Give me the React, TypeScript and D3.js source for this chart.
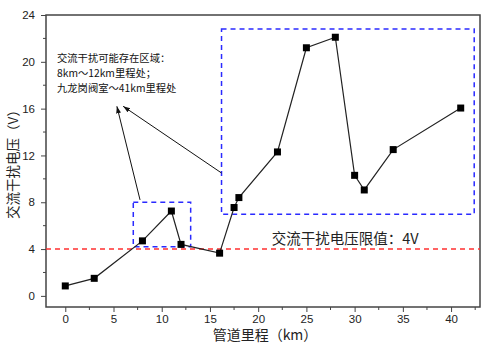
import React, { useEffect, useRef } from "react";
import * as d3 from "d3";

// mileage (km) and measured AC interference voltage (V)
const mileage = [0, 3, 8, 11, 12, 16, 17.5, 18, 22, 25, 28, 30, 31, 34, 41];
const voltage = [0.85, 1.5, 4.7, 7.25, 4.4, 3.65, 7.55, 8.4, 12.3, 21.2, 22.1, 10.3, 9.05, 12.5, 16.05];

const xTicks = [0, 5, 10, 15, 20, 25, 30, 35, 40];
const yTicks = [0, 4, 8, 12, 16, 20, 24];
const limitValue = 4;

// highlighted regions [x0, x1, y0, y1] in data units
const regions = [
  [7.05, 13.0, 4.2, 8.0],
  [16.2, 42.4, 6.97, 22.8],
];
// arrows [fromX, fromY, toX, toY] in data units
const arrows = [
  [16.2, 10.5, 6.0, 16.2],
  [7.75, 8.2, 5.35, 16.2],
];
const noteLines = ["交流干扰可能存在区域：", "8km～12km里程处；", "九龙岗阀室～41km里程处"];

const W = 500;
const H = 351;

function App() {
  const ref = useRef<SVGSVGElement>(null);

  useEffect(() => {
    const svg = d3.select(ref.current);
    svg.selectAll("*").remove();

    const margin = { top: 15, right: 20, bottom: 44, left: 46 };
    const x = d3.scaleLinear().domain([-2, 43]).range([margin.left, W - margin.right]);
    const y = d3.scaleLinear().domain([-0.95, 24]).range([H - margin.bottom, margin.top]);
    const cjk = "'Noto Sans CJK SC', sans-serif";
    const num = "'Liberation Sans', Arial, sans-serif";
    const axisColor = "#444";

    svg.append("defs")
      .append("marker")
      .attr("id", "arrowhead")
      .attr("viewBox", "0 0 10 10")
      .attr("refX", 10)
      .attr("refY", 5)
      .attr("markerWidth", 7)
      .attr("markerHeight", 7)
      .attr("orient", "auto")
      .append("path")
      .attr("d", "M0,1.5 L10,5 L0,8.5 Z")
      .attr("fill", "#111");

    // frame
    svg.append("rect")
      .attr("x", x(-2))
      .attr("y", y(24))
      .attr("width", x(43) - x(-2))
      .attr("height", y(-0.95) - y(24))
      .attr("fill", "none")
      .attr("stroke", axisColor)
      .attr("stroke-width", 1.5);

    // x axis
    const xAxis = svg.append("g").attr("transform", `translate(0,${y(-0.95)})`);
    xAxis.call(d3.axisBottom(x).tickValues(xTicks).tickSize(5).tickSizeOuter(0).tickPadding(3))
      .call(g => g.select(".domain").remove());
    xAxis.selectAll("text").style("font-size", "11.5px").style("font-family", num).attr("fill", "#222");
    xAxis.selectAll("line").attr("stroke", axisColor);
    xAxis.selectAll(".minor")
      .data(d3.range(-2.5, 43, 5).filter(v => v > -2 && v < 43))
      .enter()
      .append("line")
      .attr("x1", d => x(d))
      .attr("x2", d => x(d))
      .attr("y1", 0)
      .attr("y2", 3)
      .attr("stroke", axisColor);

    // y axis
    const yAxis = svg.append("g").attr("transform", `translate(${x(-2)},0)`);
    yAxis.call(d3.axisLeft(y).tickValues(yTicks).tickSize(5).tickSizeOuter(0).tickPadding(6))
      .call(g => g.select(".domain").remove());
    yAxis.selectAll("text").style("font-size", "11.5px").style("font-family", num).attr("fill", "#222");
    yAxis.selectAll("line").attr("stroke", axisColor);
    yAxis.selectAll(".minor")
      .data(d3.range(2, 24, 4))
      .enter()
      .append("line")
      .attr("x1", 0)
      .attr("x2", -3)
      .attr("y1", d => y(d))
      .attr("y2", d => y(d))
      .attr("stroke", axisColor);

    // axis titles
    svg.append("text")
      .attr("x", (x(-2) + x(43)) / 2 + 2)
      .attr("y", 340)
      .attr("text-anchor", "middle")
      .style("font-family", cjk)
      .style("font-size", "14px")
      .attr("fill", "#222")
      .text("管道里程（km）");
    svg.append("text")
      .attr("transform", `translate(18,${(y(-0.95) + y(24)) / 2}) rotate(-90)`)
      .attr("text-anchor", "middle")
      .style("font-family", cjk)
      .style("font-size", "13.5px")
      .attr("fill", "#222")
      .text("交流干扰电压（V）");

    // limit line
    svg.append("line")
      .attr("x1", x(-2))
      .attr("x2", x(43))
      .attr("y1", y(limitValue))
      .attr("y2", y(limitValue))
      .attr("stroke", "#ff3030")
      .attr("stroke-width", 1.5)
      .attr("stroke-dasharray", "5,4");
    svg.append("text")
      .attr("x", x(21.4))
      .attr("y", y(4.45))
      .style("font-family", cjk)
      .style("font-size", "14.5px")
      .attr("fill", "#222")
      .text(`交流干扰电压限值：${limitValue}V`);

    // highlighted regions
    svg.selectAll(".region")
      .data(regions)
      .enter()
      .append("rect")
      .attr("x", d => x(d[0]))
      .attr("y", d => y(d[3]))
      .attr("width", d => x(d[1]) - x(d[0]))
      .attr("height", d => y(d[2]) - y(d[3]))
      .attr("fill", "none")
      .attr("stroke", "#2a2aff")
      .attr("stroke-width", 1.5)
      .attr("stroke-dasharray", "5,4");

    // data line
    const data = mileage.map((m, i) => ({ m, v: voltage[i] }));
    const line = d3.line<{ m: number; v: number }>().x(d => x(d.m)).y(d => y(d.v));
    svg.append("path")
      .datum(data)
      .attr("d", line)
      .attr("fill", "none")
      .attr("stroke", "#222")
      .attr("stroke-width", 1.2);
    svg.selectAll(".pt")
      .data(data)
      .enter()
      .append("rect")
      .attr("x", d => x(d.m) - 3.5)
      .attr("y", d => y(d.v) - 3.5)
      .attr("width", 7)
      .attr("height", 7)
      .attr("fill", "#000");

    // arrows
    svg.selectAll(".arrow")
      .data(arrows)
      .enter()
      .append("line")
      .attr("x1", d => x(d[0]))
      .attr("y1", d => y(d[1]))
      .attr("x2", d => x(d[2]))
      .attr("y2", d => y(d[3]))
      .attr("stroke", "#111")
      .attr("stroke-width", 1)
      .attr("marker-end", "url(#arrowhead)");

    // note
    svg.append("g")
      .selectAll("text")
      .data(noteLines)
      .enter()
      .append("text")
      .attr("x", 57)
      .attr("y", (d, i) => 62 + i * 15)
      .style("font-family", cjk)
      .style("font-size", "10.3px")
      .attr("fill", "#111")
      .text(d => d);
  }, []);

  return (
    <svg
      ref={ref}
      width={W}
      height={H}
      style={{ position: "absolute", left: 0, top: 0, background: "#fff" }}
    />
  );
}

export default App;
